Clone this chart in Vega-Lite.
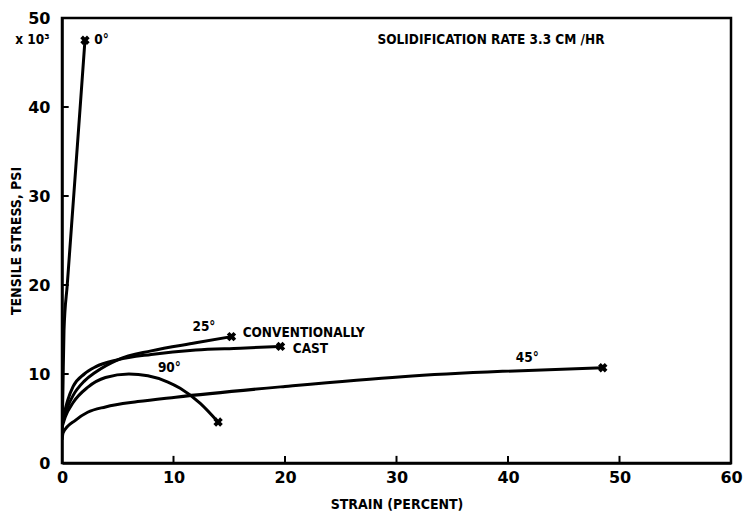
{
  "$schema": "https://vega.github.io/schema/vega-lite/v6.json",
  "width": 669,
  "height": 445,
  "autosize": "none",
  "padding": {"left": 62, "top": 18, "right": 17, "bottom": 49},
  "background": "white",
  "config": {
    "view": {"stroke": "black", "strokeWidth": 2.5},
    "font": "DejaVu Sans",
    "axis": {
      "grid": false,
      "ticks": false,
      "labelFlush": false,
      "domainColor": "black",
      "domainWidth": 2.5,
      "labelFont": "DejaVu Sans",
      "labelFontWeight": "bold",
      "labelFontSize": 16,
      "labelColor": "black",
      "titleFont": "DejaVu Sans Condensed, DejaVu Sans",
      "titleFontWeight": "bold",
      "titleFontSize": 14,
      "titleColor": "black"
    }
  },
  "datasets": {
    "curves": [
      {"series": "0°", "strain": 0.0, "stress": 3.0},
      {"series": "0°", "strain": 0.08, "stress": 8.0},
      {"series": "0°", "strain": 0.18, "stress": 14.9},
      {"series": "0°", "strain": 0.47, "stress": 20.0},
      {"series": "0°", "strain": 1.05, "stress": 30.0},
      {"series": "0°", "strain": 1.63, "stress": 40.0},
      {"series": "0°", "strain": 2.06, "stress": 47.5, "end": true},

      {"series": "25°", "strain": 0.0, "stress": 4.5},
      {"series": "25°", "strain": 0.5, "stress": 6.3},
      {"series": "25°", "strain": 1.0, "stress": 7.6},
      {"series": "25°", "strain": 2.0, "stress": 9.2},
      {"series": "25°", "strain": 3.0, "stress": 10.2},
      {"series": "25°", "strain": 5.0, "stress": 11.6},
      {"series": "25°", "strain": 8.0, "stress": 12.6},
      {"series": "25°", "strain": 12.0, "stress": 13.5},
      {"series": "25°", "strain": 15.2, "stress": 14.2, "end": true},

      {"series": "Conventionally cast", "strain": 0.0, "stress": 4.5},
      {"series": "Conventionally cast", "strain": 0.5, "stress": 7.0},
      {"series": "Conventionally cast", "strain": 1.0, "stress": 8.6},
      {"series": "Conventionally cast", "strain": 2.0, "stress": 10.0},
      {"series": "Conventionally cast", "strain": 3.0, "stress": 10.8},
      {"series": "Conventionally cast", "strain": 5.0, "stress": 11.6},
      {"series": "Conventionally cast", "strain": 8.0, "stress": 12.2},
      {"series": "Conventionally cast", "strain": 12.0, "stress": 12.7},
      {"series": "Conventionally cast", "strain": 16.0, "stress": 12.9},
      {"series": "Conventionally cast", "strain": 19.6, "stress": 13.1, "end": true},

      {"series": "90°", "strain": 0.0, "stress": 4.0},
      {"series": "90°", "strain": 0.3, "stress": 5.2},
      {"series": "90°", "strain": 1.0, "stress": 6.8},
      {"series": "90°", "strain": 2.3, "stress": 8.5},
      {"series": "90°", "strain": 3.9, "stress": 9.6},
      {"series": "90°", "strain": 6.0, "stress": 10.0},
      {"series": "90°", "strain": 7.7, "stress": 9.8},
      {"series": "90°", "strain": 9.5, "stress": 9.1},
      {"series": "90°", "strain": 10.6, "stress": 8.4},
      {"series": "90°", "strain": 12.4, "stress": 6.7},
      {"series": "90°", "strain": 14.0, "stress": 4.6, "end": true},

      {"series": "45°", "strain": 0.0, "stress": 2.6},
      {"series": "45°", "strain": 0.1, "stress": 3.4},
      {"series": "45°", "strain": 1.2, "stress": 4.8},
      {"series": "45°", "strain": 2.3, "stress": 5.7},
      {"series": "45°", "strain": 3.9, "stress": 6.3},
      {"series": "45°", "strain": 6.8, "stress": 6.9},
      {"series": "45°", "strain": 10.2, "stress": 7.4},
      {"series": "45°", "strain": 20.0, "stress": 8.6},
      {"series": "45°", "strain": 30.5, "stress": 9.7},
      {"series": "45°", "strain": 39.5, "stress": 10.3},
      {"series": "45°", "strain": 48.5, "stress": 10.7, "end": true}
    ],
    "xticks": [
      {"strain": 10}, {"strain": 20}, {"strain": 30}, {"strain": 40}, {"strain": 50}
    ],
    "yticks": [
      {"stress": 10}, {"stress": 20}, {"stress": 30}, {"stress": 40}
    ],
    "notes": [
      {"text": "0°", "strain": 2.9, "stress": 47.5},
      {"text": "SOLIDIFICATION RATE  3.3 CM /HR", "strain": 28.3, "stress": 47.5},
      {"text": "25°", "strain": 11.7, "stress": 15.3},
      {"text": "CONVENTIONALLY", "strain": 16.2, "stress": 14.6},
      {"text": "CAST", "strain": 20.7, "stress": 12.8},
      {"text": "90°", "strain": 8.6, "stress": 10.7},
      {"text": "45°", "strain": 40.7, "stress": 11.8},
      {"text": "x 10³", "strain": -4.2, "stress": 47.5}
    ]
  },
  "layer": [
    {
      "data": {"name": "curves"},
      "mark": {"type": "line", "color": "black", "strokeWidth": 3, "interpolate": "monotone", "clip": true},
      "encoding": {
        "x": {
          "field": "strain", "type": "quantitative",
          "scale": {"domain": [0, 60], "nice": false, "zero": false},
          "axis": {"values": [0, 10, 20, 30, 40, 50, 60], "title": "STRAIN (PERCENT)", "labelPadding": 6, "titlePadding": 12}
        },
        "y": {
          "field": "stress", "type": "quantitative",
          "scale": {"domain": [0, 50], "nice": false},
          "axis": {"values": [0, 10, 20, 30, 40, 50], "title": "TENSILE STRESS, PSI", "labelPadding": 12, "titlePadding": 4}
        },
        "detail": {"field": "series", "type": "nominal"}
      }
    },
    {
      "data": {"name": "xticks"},
      "transform": [{"calculate": "0", "as": "base"}, {"calculate": "0.8", "as": "top"}],
      "mark": {"type": "rule", "color": "black", "strokeWidth": 2},
      "encoding": {
        "x": {"field": "strain", "type": "quantitative"},
        "y": {"field": "base", "type": "quantitative"},
        "y2": {"field": "top"}
      }
    },
    {
      "data": {"name": "yticks"},
      "transform": [{"calculate": "0", "as": "base"}, {"calculate": "0.6", "as": "tip"}],
      "mark": {"type": "rule", "color": "black", "strokeWidth": 2},
      "encoding": {
        "y": {"field": "stress", "type": "quantitative"},
        "x": {"field": "base", "type": "quantitative"},
        "x2": {"field": "tip"}
      }
    },
    {
      "data": {"name": "curves"},
      "transform": [{"filter": "datum.end === true"}],
      "mark": {"type": "point", "shape": "cross", "angle": 45, "filled": true, "color": "black", "size": 90, "opacity": 1},
      "encoding": {
        "x": {"field": "strain", "type": "quantitative"},
        "y": {"field": "stress", "type": "quantitative"}
      }
    },
    {
      "data": {"name": "notes"},
      "mark": {"type": "text", "align": "left", "baseline": "middle", "font": "DejaVu Sans Condensed, DejaVu Sans", "fontWeight": "bold", "fontSize": 13.5, "color": "black", "clip": false},
      "encoding": {
        "x": {"field": "strain", "type": "quantitative"},
        "y": {"field": "stress", "type": "quantitative"},
        "text": {"field": "text"}
      }
    }
  ]
}
